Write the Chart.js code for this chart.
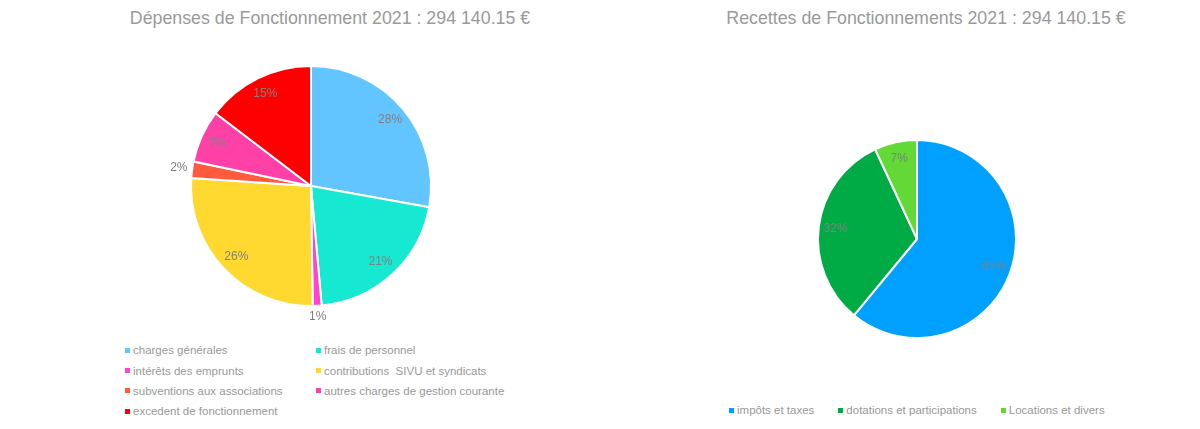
<!DOCTYPE html>
<html>
<head>
<meta charset="utf-8">
<script src="https://cdn.jsdelivr.net/npm/chart.js@4.4.0/dist/chart.umd.min.js"></script>
<style>
  html, body { margin: 0; padding: 0; background: #fff; }
  body { width: 1200px; height: 429px; position: relative; overflow: hidden;
         font-family: "Liberation Sans", Arial, Helvetica, sans-serif; }
  .box { position: absolute; }
  .title { position: absolute; top: 8px; line-height: 20px; text-align: center;
           font-size: 17.8px; color: #9a9a9a; white-space: nowrap; }
  .legend { position: absolute; font-size: 11.5px; color: #999; }
  .legend span.item { display: inline-flex; align-items: center; white-space: pre; height: 20.4px; }
  .legend i { display: inline-block; width: 5px; height: 5px; margin-right: 3px; }
  #legendLeft { left: 125px; top: 340px; display: grid; grid-template-columns: 191px auto; }
  #legendRight { left: 729px; top: 400px; display: flex; gap: 24px; }
</style>
</head>
<body>
<div class="title" id="titleLeft" style="left:0;width:660px"></div>
<div class="title" id="titleRight" style="left:652px;width:548px"></div>
<div class="box" style="left:0;top:0;width:660px;height:330px"><canvas id="depenses"></canvas></div>
<div class="box" style="left:652px;top:0;width:548px;height:342px"><canvas id="recettes"></canvas></div>
<div class="legend" id="legendLeft"></div>
<div class="legend" id="legendRight"></div>
<script>
const depTitle = "Dépenses de Fonctionnement 2021 : 294 140.15 €";
const recTitle = "Recettes de Fonctionnements 2021 : 294 140.15 €";

// Dépenses (en euros)
const depLabels = ["charges générales", "frais de personnel", "intérêts des emprunts",
  "contributions  SIVU et syndicats", "subventions aux associations",
  "autres charges de gestion courante", "excedent de fonctionnement"];
const depValues = [81900, 61000, 3500, 77300, 6500, 20900, 43040.15];
const depColors = ["#63c5ff", "#17e8d1", "#ff45d0", "#ffd930", "#ff5a3d", "#ff40a6", "#ff0000"];

// Recettes (en euros)
const recLabels = ["impôts et taxes", "dotations et participations", "Locations et divers"];
const recValues = [179400, 94300, 20440.15];
const recColors = ["#00a0ff", "#00ab45", "#62d936"];

// pourcentages sur les parts
const pctLabels = {
  id: 'pctLabels',
  afterDatasetsDraw(chart) {
    const ctx = chart.ctx;
    const data = chart.data.datasets[0].data;
    const total = data.reduce((a, b) => a + b, 0);
    ctx.save();
    ctx.font = '12px "Liberation Sans", Arial, sans-serif';
    ctx.fillStyle = '#808080';
    ctx.textAlign = 'center';
    ctx.textBaseline = 'middle';
    chart.getDatasetMeta(0).data.forEach((arc, i) => {
      const p = arc.getProps(['x', 'y', 'startAngle', 'endAngle', 'outerRadius'], true);
      const pct = Math.round(data[i] / total * 100);
      const txt = pct + '%';
      const mid = (p.startAngle + p.endAngle) / 2;
      const c = Math.cos(mid), s = Math.sin(mid);
      let d;
      if (pct < 4) {
        const hw = ctx.measureText(txt).width / 2;
        d = p.outerRadius + 4 + Math.abs(c) * hw + Math.abs(s) * 6;
      } else {
        d = p.outerRadius - 17;
      }
      ctx.fillText(txt, p.x + c * d, p.y + s * d);
    });
    ctx.restore();
  }
};

function pieChart(id, labels, values, colors, pad) {
  return new Chart(document.getElementById(id), {
    type: 'pie',
    data: {
      labels: labels,
      datasets: [{ data: values, backgroundColor: colors, borderColor: '#fff', borderWidth: 2 }]
    },
    options: {
      responsive: true,
      maintainAspectRatio: false,
      animation: false,
      events: [],
      layout: { padding: pad },
      plugins: {
        legend: { display: false },
        tooltip: { enabled: false },
        title: { display: false }
      }
    },
    plugins: [pctLabels]
  });
}

pieChart('depenses', depLabels, depValues, depColors, { top: 65, right: 38, bottom: 23 });
pieChart('recettes', recLabels, recValues, recColors, { top: 139, right: 18, bottom: 3 });

document.getElementById('titleLeft').textContent = depTitle;
document.getElementById('titleRight').textContent = recTitle;

function buildLegend(el, labels, colors) {
  labels.forEach((l, i) => {
    const it = document.createElement('span');
    it.className = 'item';
    const sq = document.createElement('i');
    sq.style.background = colors[i];
    it.appendChild(sq);
    it.appendChild(document.createTextNode(l));
    el.appendChild(it);
  });
}
buildLegend(document.getElementById('legendLeft'), depLabels, depColors);
buildLegend(document.getElementById('legendRight'), recLabels, recColors);
</script>
</body>
</html>
